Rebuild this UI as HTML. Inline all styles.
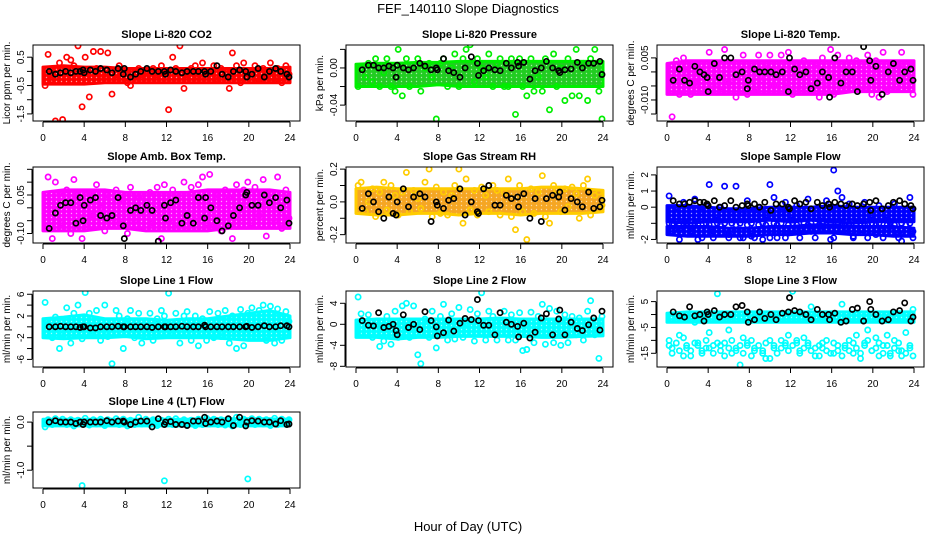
<!DOCTYPE html>
<html><head><meta charset="utf-8"><style>
html,body{margin:0;padding:0;background:#fff}
svg{display:block;font-family:"Liberation Sans",Arial,sans-serif}
</style></head><body>
<svg id="chart" width="936" height="540" viewBox="0 0 936 540">
<text x="468" y="13" text-anchor="middle" font-size="13">FEF_140110  Slope Diagnostics</text>
<text x="468" y="531" text-anchor="middle" font-size="13">Hour of Day (UTC)</text>
</svg>
<script>
const bandHours=[0,2,4,6,8,10,12,14,16,18,20,22,24];
const colorHours=[0.2,0.5,0.9,1.2,1.6,1.9,2.3,2.7,3.0,3.4,3.8,4.1,4.5,4.9,5.2,5.6,6.0,6.3,6.7,7.1,7.4,7.8,8.2,8.5,8.9,9.3,9.6,10.0,10.4,10.7,11.1,11.5,11.8,12.2,12.6,12.9,13.3,13.7,14.0,14.4,14.8,15.1,15.5,15.9,16.2,16.6,17.0,17.3,17.7,18.1,18.4,18.8,19.2,19.5,19.9,20.3,20.6,21.0,21.4,21.7,22.1,22.5,22.8,23.2,23.6,23.9];
const blackHours=[0.6,1.2,1.7,2.2,2.7,3.2,3.6,3.9,4.0,4.6,5.1,5.6,6.2,6.7,7.3,7.8,7.9,8.5,9.0,9.5,10.1,10.6,11.2,11.8,11.9,12.4,12.9,13.5,14.0,14.6,15.1,15.7,15.8,16.3,16.9,17.4,18.0,18.5,19.1,19.7,19.8,20.3,20.9,21.5,22.0,22.6,23.1,23.7,23.9];

const co2Lo=[-0.45,-0.45,-0.45,-0.4,-0.4,-0.4,-0.4,-0.4,-0.4,-0.4,-0.4,-0.4,-0.4];
const co2Hi=[0.15,0.2,0.15,0.15,0.1,0.1,0.1,0.1,0.1,0.1,0.1,0.1,0.15];
const co2Pts=[-0.5,0.6,-0.3,-1.75,0.3,-1.7,0.5,0.4,0.2,0.9,-1.25,0.5,-0.9,0.7,0.1,0.7,-0.2,0.65,-0.8,-0.3,0.2,-0.1,-0.4,-0.5,-0.2,0.1,-0.3,0.0,-0.2,0.1,-0.3,0.2,-0.1,-1.35,0.5,0.1,0.9,-0.6,-0.3,0.1,0.2,-0.2,0.3,-0.1,0.0,0.2,-0.3,0.1,-0.2,-0.6,0.65,0.2,-0.4,0.3,-0.1,0.0,0.2,-0.3,0.1,-0.2,0.3,-0.3,0.1,-0.4,0.2,-0.1];
const co2Blk=[0.0,-0.1,-0.05,0.0,-0.05,0.0,0.0,0.05,-0.05,0.05,0.0,0.1,0.05,-0.05,0.1,-0.1,0.1,-0.2,-0.1,0.0,0.1,0.0,0.0,0.0,-0.1,0.05,0.0,-0.05,0.0,0.0,0.0,0.0,-0.1,0.0,0.2,-0.1,-0.2,0.0,0.05,0.0,-0.2,-0.1,0.1,-0.2,0.0,0.1,0.0,-0.1,-0.2];

const presLo=[-0.02,-0.02,-0.02,-0.02,-0.018,-0.02,-0.02,-0.02,-0.02,-0.02,-0.02,-0.02,-0.02];
const presHi=[0.004,0.005,0.005,0.006,0.006,0.007,0.007,0.007,0.007,0.007,0.007,0.007,0.007];
const presPts=[-0.02,0.0,-0.01,0.005,-0.015,0.01,-0.02,-0.005,0.01,-0.02,-0.025,0.02,-0.03,0.01,-0.02,0.0,0.01,-0.025,0.0,0.005,-0.01,-0.055,0.005,0.01,-0.02,0.0,0.015,-0.02,0.01,0.02,0.025,-0.015,0.01,0.0,-0.01,0.015,-0.02,0.005,0.01,-0.02,-0.02,0.01,-0.05,0.01,-0.02,-0.03,0.01,-0.025,-0.01,-0.025,0.01,-0.045,0.015,-0.02,0.0,-0.035,0.01,-0.03,0.02,-0.03,0.005,-0.035,0.01,0.02,-0.025,-0.055];
const presBlk=[-0.002,0.003,0.003,0.0,0.0,0.002,0.0,-0.01,0.003,0.0,-0.002,0.0,0.005,0.002,-0.002,0.0,-0.002,0.01,-0.003,-0.005,-0.01,0.0,0.012,0.005,-0.008,-0.003,0.0,-0.002,-0.003,0.005,0.0,0.006,0.002,0.006,-0.012,-0.003,0.0,0.007,0.0,-0.003,-0.005,-0.002,-0.001,0.006,0.0,0.005,0.005,0.007,-0.007];

const tempLo=[-0.008,-0.008,-0.008,-0.008,-0.008,-0.008,-0.008,-0.008,-0.008,-0.007,-0.007,-0.007,-0.007];
const tempHi=[0.003,0.004,0.004,0.004,0.004,0.004,0.004,0.004,0.004,0.004,0.004,0.004,0.004];
const tempPts=[-0.004,-0.016,0.004,-0.008,0.005,0.0,-0.008,-0.004,0.0,0.002,-0.003,0.007,-0.005,0.003,-0.007,0.008,-0.004,0.002,-0.009,0.001,0.006,-0.008,0.003,-0.007,0.006,-0.003,0.003,0.006,-0.005,0.002,0.006,-0.004,0.007,-0.008,0.003,-0.006,0.004,0.001,-0.005,0.003,-0.009,0.005,-0.006,0.008,-0.008,0.006,0.002,-0.006,0.005,-0.003,0.004,0.001,-0.006,0.006,-0.008,0.004,-0.009,0.007,-0.007,0.003,-0.006,0.002,0.007,-0.005,0.003,-0.008];
const tempBlk=[-0.003,0.001,-0.003,-0.004,0.002,0.0,-0.001,-0.002,-0.007,0.003,-0.002,0.005,0.005,-0.001,0.0,-0.006,-0.003,0.001,0.0,0.0,0.0,-0.001,0.0,-0.007,0.005,0.001,-0.001,0.0,-0.006,-0.004,0.0,-0.002,-0.009,0.005,-0.004,0.0,0.0,-0.007,0.009,0.004,-0.003,0.002,-0.008,0.0,0.003,-0.003,0.0,0.001,-0.003];

const ambLo=[-0.09,-0.09,-0.09,-0.08,-0.08,-0.09,-0.09,-0.09,-0.09,-0.08,-0.08,-0.08,-0.08];
const ambHi=[0.06,0.07,0.07,0.07,0.06,0.06,0.06,0.06,0.07,0.07,0.07,0.07,0.06];
const ambPts=[-0.08,0.12,-0.12,0.1,0.06,-0.06,0.07,-0.1,0.11,0.05,-0.12,-0.08,0.06,-0.03,0.09,0.0,-0.09,0.05,-0.04,0.07,-0.06,0.03,-0.1,0.08,-0.05,0.04,-0.07,0.02,0.06,-0.06,0.08,-0.12,0.09,-0.05,0.07,-0.08,0.04,0.1,-0.07,0.08,-0.05,0.09,0.12,-0.06,0.13,-0.07,0.05,-0.09,0.07,0.04,-0.12,0.09,-0.04,0.07,0.1,-0.06,0.08,-0.03,0.11,-0.11,0.06,-0.05,0.12,-0.08,0.07,-0.04];
const ambBlk=[-0.08,-0.02,0.01,0.02,0.02,-0.06,0.04,-0.05,0.01,0.03,0.04,-0.03,-0.04,-0.03,0.04,-0.07,-0.12,-0.01,0.0,-0.01,0.01,-0.01,-0.13,0.01,-0.04,0.02,0.03,-0.06,-0.03,-0.06,0.04,-0.04,0.04,0.0,-0.05,-0.09,-0.07,-0.03,0.0,0.05,0.06,0.01,0.01,0.05,0.02,0.04,0.0,0.03,-0.06];

const rhLo=[-0.07,-0.08,-0.08,-0.07,-0.07,-0.08,-0.07,-0.07,-0.08,-0.07,-0.07,-0.07,-0.06];
const rhHi=[0.08,0.09,0.08,0.08,0.08,0.08,0.08,0.08,0.08,0.09,0.09,0.08,0.07];
const rhPts=[0.1,0.12,-0.06,0.0,0.08,-0.09,0.06,0.12,-0.05,0.1,0.04,-0.08,0.06,0.18,-0.06,0.07,0.02,-0.04,0.12,0.2,-0.09,0.09,-0.07,0.06,-0.08,0.04,0.1,0.2,-0.13,0.14,-0.05,0.07,-0.08,0.09,0.04,-0.06,0.1,0.07,-0.08,0.06,0.14,-0.09,-0.17,0.1,-0.06,-0.23,0.08,-0.07,0.06,0.16,-0.09,-0.13,0.1,0.07,-0.06,0.08,-0.03,0.09,0.05,-0.1,0.1,0.14,-0.08,0.04,0.06,-0.02];
const rhBlk=[-0.04,0.05,0.0,-0.06,-0.1,0.03,-0.07,-0.08,0.0,0.08,-0.03,0.03,0.05,0.03,-0.12,0.0,-0.02,-0.04,0.01,0.02,0.08,-0.08,0.0,-0.06,-0.07,0.08,0.1,-0.02,-0.02,0.04,0.02,0.03,-0.03,0.05,-0.1,0.02,-0.12,0.02,0.04,0.03,0.06,-0.05,0.02,0.0,-0.03,0.06,-0.04,-0.03,0.01];

const sampLo=[-0.9,-1.0,-0.9,-0.9,-0.9,-0.8,-0.9,-0.8,-0.9,-1.0,-0.9,-0.9,-0.9];
const sampHi=[0.1,0.1,0.0,-0.1,-0.1,0.0,0.0,0.0,0.1,0.0,0.0,0.0,0.0];
const sampLo2=[-1.7,-1.8,-1.8,-1.8,-1.8,-1.7,-1.7,-1.6,-1.6,-1.7,-1.7,-1.8,-1.8];
const sampHi2=[-1.2,-1.2,-1.2,-1.3,-1.3,-1.2,-1.2,-1.1,-1.1,-1.2,-1.2,-1.2,-1.3];
const sampPts=[0.7,-1.5,0.0,-2.0,0.3,-1.0,-1.6,0.5,-2.0,-0.3,0.1,1.4,-1.5,-0.8,0.0,1.3,-1.7,-0.6,1.3,-1.9,-0.4,0.4,-1.8,-0.2,0.0,-2.0,-0.5,1.4,0.6,-1.9,-0.3,0.3,-1.6,-0.8,0.1,-1.4,-1.0,0.5,-1.5,-0.1,-0.8,-1.2,0.4,-2.0,2.3,1.0,0.6,-1.3,0.2,-1.8,-0.7,-1.4,0.3,-1.1,-0.5,-1.7,0.1,-1.4,-0.8,-1.2,0.2,-1.6,-2.1,-0.4,0.6,-1.5];
const sampPts2=[-1.0,-1.1,-0.9,-1.4,-1.0,-1.1,-1.5,-1.0,-1.1,-1.9,-1.0,-1.1,-1.9,-1.0,-1.1,-1.0,-1.9,-1.0,-1.1,-1.0,-1.9,-1.1,-1.0,-1.9,-1.1,-1.0,-1.1,-1.9,-1.0,-1.1,-1.0,-1.9,-1.1,-1.0,-1.1,-1.9,-1.0,-1.1,-1.0,-1.9,-1.1,-1.0,-1.1,-1.0,-1.9,-1.1,-1.0,-1.1,-1.0,-1.9,-1.1,-1.0,-1.1,-1.9,-1.0,-1.1,-1.0,-1.9,-1.1,-1.0,-1.1,-1.9,-1.0,-1.1,-1.0,-1.9];
const sampBlk=[0.4,0.2,0.2,0.3,0.4,0.3,0.3,0.2,0.1,0.4,0.0,0.1,0.4,0.0,0.1,0.2,0.1,0.2,0.0,0.3,-0.2,0.2,0.2,0.0,-0.1,0.4,0.2,0.3,-0.1,0.3,0.1,0.2,0.0,0.3,0.2,0.1,0.2,0.1,0.2,0.3,-0.2,0.4,-0.1,0.1,0.3,0.4,0.2,0.1,-0.1];

const l1Lo=[-2,-2.2,-2,-2,-1.8,-2.2,-2,-2,-2,-2.2,-2.5,-2.5,-2];
const l1Hi=[1.5,1.8,2.2,1.5,1.5,1.5,1.2,1.5,1.5,2,2.5,3,2];
const l1Pts=[4.5,0.5,-2,1.8,-4,-1.5,3.5,-3,2.5,4,-2.2,6.3,2.5,-1.5,3,-2.5,4,-1.8,-6.8,3,2,-4,1.5,3,-2,2.5,-3,1,2.5,-2.5,1.5,3,2,6.2,-1.5,2.5,-3,2,2.8,-2.5,2,-3.5,1.5,-2.5,2.8,-2,2.5,-1.8,3,-3,2,-4,3.2,-3.5,2.5,3.5,-2,3,4,-2.5,3.8,-3,3.3,-2.5,2.8,1];
const l1Blk=[0,0,0.1,0,0,0,-0.1,0,0,-0.2,-0.2,0,0,0,0.1,0,0,0,0,0,0,-0.1,0,0,0,0,0,0.1,0,0,0,0.3,0,0,0,0,0,0,0,0,0.1,-0.1,0,0.2,0,0,0.2,0.2,0];

const l2Lo=[-2.5,-2.5,-2.8,-2.5,-2.5,-2.3,-2.3,-2.3,-2.3,-2.5,-2.5,-2.3,-2.2];
const l2Hi=[0.8,1,1,1,1,1,1,1.2,1,1,1,1,1];
const l2Pts=[5.2,2,-1.8,1.8,-2.5,0.5,-4.2,-3.2,1.5,-3.8,2.5,-2.5,3.5,4,-2.5,3.5,-5.8,-7.5,1,-2.5,2.5,-4.5,1.5,3.8,-3,2,-2.8,3.2,-2.5,-0.8,2.8,-3.2,2,6,-3,2.5,1.5,-3,0.5,2.5,-3,1.8,-3,2.2,-5,-4.8,2.3,-3.5,1.5,3.8,-3.8,3,-3.5,2.5,-4,1.8,-3.5,1.5,-2,1.2,-3,2.5,4.5,-2,-6.5,1.5];
const l2Blk=[0.7,-0.2,-0.3,2.2,-0.6,-0.4,0,-1.2,-2.0,1.8,-0.6,0,-1,2.4,0.7,-0.5,-2.2,-1.6,0.8,-1.3,0.2,1.1,0.9,4.7,0.7,-0.2,-0.2,-2,2.2,0.4,0,-0.4,-2.4,0.2,-2.6,-1.5,1.2,2,-2,1,2.7,-2,0.4,-0.8,-1.2,-0.1,1.2,-1.1,2.5];

const l3Lo=[-3,-3,-3,-3,-3,-3,-3,-3,-3,-3,-3,-3,-3];
const l3Hi=[0.5,1,1,1,1,1,1,1,1,1,1,1,1];
const l3Pts=[-10,-13,-1,-8,-16,-12,-14,-3,-11,-15,-13,-7,-12,8,-14,-11,-6,-15,-13,-19.5,-9,-12,-10,-14,-2,-15,-11,-17,-13,-1,-10,-12,-8,9,-11,-14,-9,-12,3,-13,-16,-11,-14,-2,-15,-12,4,-13,-10,-15,-8,-17,-11,-6,-14,-9,-16,-12,-8,-15,-10,-14,-16,-7,-13,2];
const l3Pts2=[-12,-15,-11,-14,-9,-13,-16,-11,-12,-14,-10,-13,-15,-11,-12,-16,-13,-10,-14,-12,-15,-11,-16,-13,-12,-14,-17,-10,-12,-15,-13,-11,-14,-12,-10,-15,-13,-11,-14,-16,-12,-13,-10,-15,-11,-14,-16,-12,-14,-11,-13,-15,-12,-10,-14,-13,-11,-15,-12,-16,-13,-11,-14,-15,-12,-16];
const l3Blk=[1,-0.5,-1,3,-0.5,0,-2.5,1,0,1.5,-1,0,0,3,3.5,1,-3,-2,1,-1.5,0,-2,0.5,1,6.5,1.5,1,0,-2,2,0,0,-2,0.5,-3,-2.5,2,2.5,-2.5,5,2,0,-2.5,-2,1,1.5,4.5,-2.5,-1];

const l4Lo=[-0.08,-0.08,-0.08,-0.08,-0.08,-0.08,-0.08,-0.08,-0.08,-0.08,-0.08,-0.08,-0.08];
const l4Hi=[0.06,0.06,0.06,0.06,0.06,0.06,0.06,0.06,0.07,0.07,0.07,0.07,0.06];
const l4Pts=[-0.1,0.05,-0.05,0.07,-0.03,0.06,-0.05,0.05,-0.08,0.04,-1.32,0.08,-0.06,0.05,-0.04,0.06,-0.07,0.05,-0.03,0.07,-0.05,0.06,-0.08,0.04,-0.05,0.1,-0.04,0.06,-0.05,0.05,-0.07,0.04,-1.22,0.06,-0.05,0.07,-0.04,0.05,-0.06,0.04,-0.07,0.06,-0.05,0.08,-0.04,0.06,-0.05,0.05,-0.06,0.04,-0.08,0.1,-0.05,0.06,-1.18,0.07,-0.05,0.06,-0.04,0.05,-0.07,0.08,-0.05,0.06,-0.04,0.05];
const l4Blk=[0,0.03,0,0,0,-0.03,0,-0.05,0,0,0,0,0.03,0,0.02,0.02,0,-0.05,0,0.02,0.02,-0.1,0.07,-0.05,0,0.01,-0.05,-0.05,-0.07,0.02,0.02,0.1,-0.03,0,0.02,0,0.07,-0.07,0.1,-0.08,0,0.03,0.02,0,0,-0.04,0.03,-0.05,-0.04];

const xTicks=[0,4,8,12,16,20,24];

const panels=[
 {id:'co2',title:'Slope Li-820 CO2',ylab:'Licor ppm per min.',L:33,T:45,ymin:-1.75,ymax:0.93,ticks:[0.5,0,-0.5,-1,-1.5],labels:[0.5,-0.5,-1.5],fmt:v=>v.toFixed(1),col:'#ff0000',band:'#ff0000',bands:[[co2Lo,co2Hi]],pts:[co2Pts],blk:co2Blk},
 {id:'pressure',title:'Slope Li-820 Pressure',ylab:'kPa per min.',L:346,T:45,ymin:-0.0571,ymax:0.0247,ticks:[0.02,0,-0.02,-0.04],labels:[0,-0.04],fmt:v=>v.toFixed(2),col:'#00ee00',band:'#22cc22',bands:[[presLo,presHi]],pts:[presPts],blk:presBlk},
 {id:'temp',title:'Slope Li-820 Temp.',ylab:'degrees C per min.',L:657,T:45,ymin:-0.0175,ymax:0.0096,ticks:[0.005,0,-0.005,-0.01,-0.015],labels:[0.005,-0.01],fmt:v=>v.toFixed(3),col:'#ff00ff',band:'#ff00ff',bands:[[tempLo,tempHi]],pts:[tempPts],blk:tempBlk},
 {id:'amb-box-temp',title:'Slope Amb. Box Temp.',ylab:'degrees C per min.',L:33,T:167,ymin:-0.137,ymax:0.159,ticks:[0.15,0.1,0.05,0,-0.05,-0.1],labels:[0.05,-0.1],fmt:v=>v.toFixed(2),col:'#ff00ff',band:'#ff00ff',bands:[[ambLo,ambHi]],pts:[ambPts],blk:ambBlk},
 {id:'gas-stream-rh',title:'Slope Gas Stream RH',ylab:'percent per min.',L:346,T:167,ymin:-0.251,ymax:0.213,ticks:[0.2,0.1,0,-0.1,-0.2],labels:[0.2,0,-0.2],fmt:v=>v.toFixed(1),col:'#ffcc00',band:'#f5a623',bands:[[rhLo,rhHi]],pts:[rhPts],blk:rhBlk},
 {id:'sample-flow',title:'Slope Sample Flow',ylab:'ml/min per min.',L:657,T:167,ymin:-2.22,ymax:2.49,ticks:[2,1,0,-1,-2],labels:[2,1,0,-2],fmt:v=>String(v),col:'#0000ff',band:'#0000ff',bands:[[sampLo,sampHi],[sampLo2,sampHi2]],pts:[sampPts,sampPts2],blk:sampBlk},
 {id:'line1-flow',title:'Slope Line 1 Flow',ylab:'ml/min per min.',L:33,T:291,ymin:-7.4,ymax:6.6,ticks:[6,4,2,0,-2,-4,-6],labels:[6,2,-2,-6],fmt:v=>String(v),col:'#00ffff',band:'#00ffff',bands:[[l1Lo,l1Hi]],pts:[l1Pts],blk:l1Blk},
 {id:'line2-flow',title:'Slope Line 2 Flow',ylab:'ml/min per min.',L:346,T:291,ymin:-8.13,ymax:6.34,ticks:[4,0,-4,-8],labels:[4,0,-4,-8],fmt:v=>String(v),col:'#00ffff',band:'#00ffff',bands:[[l2Lo,l2Hi]],pts:[l2Pts],blk:l2Blk},
 {id:'line3-flow',title:'Slope Line 3 Flow',ylab:'ml/min per min.',L:657,T:291,ymin:-20.3,ymax:9.1,ticks:[5,0,-5,-10,-15],labels:[5,-5,-15],fmt:v=>String(v),col:'#00ffff',band:'#00ffff',bands:[[l3Lo,l3Hi]],pts:[l3Pts,l3Pts2],blk:l3Blk},
 {id:'line4-flow',title:'Slope Line 4 (LT) Flow',ylab:'ml/min per min.',L:33,T:412,ymin:-1.37,ymax:0.21,ticks:[0,-0.5,-1],labels:[0,-1],fmt:v=>v.toFixed(1),col:'#00ffff',band:'#00ffff',bands:[[l4Lo,l4Hi]],pts:[l4Pts],blk:l4Blk}
];
const W=267,H=76;
const NS='http://www.w3.org/2000/svg';
const svg=document.getElementById('chart');
function mk(tag,attrs,parent){const e=document.createElementNS(NS,tag);for(const k in attrs)e.setAttribute(k,attrs[k]);parent.appendChild(e);return e;}
const defs=mk('defs',{},svg);
panels.forEach(p=>{
  const xs=h=>p.L+10+h*247/24;
  const ys=v=>p.T+(p.ymax-v)/(p.ymax-p.ymin)*H;
  const g=mk('g',{},svg);
  
  
  const cp=mk('clipPath',{id:'cp-'+p.id},defs);
  mk('rect',{x:p.L,y:p.T,width:W,height:H},cp);
  const pat=mk('pattern',{id:'pat-'+p.id,width:5,height:4,patternUnits:'userSpaceOnUse'},defs);
  mk('rect',{x:0,y:0,width:5,height:4,fill:p.band},pat);
  mk('circle',{cx:1.5,cy:1.5,r:0.7,fill:'#ffffff','fill-opacity':'0.6'},pat);
  const t=mk('text',{x:p.L+W/2,y:p.T-7,'text-anchor':'middle','font-size':'11','font-weight':'bold'},g);
  t.textContent=p.title;
  
  
  const yl=mk('text',{x:0,y:0,'text-anchor':'middle','font-size':'10',transform:`translate(${p.L-23},${p.T+H/2}) rotate(-90)`},g);
  yl.textContent=p.ylab;
  
  
  const plot=mk('g',{'clip-path':`url(#cp-${p.id})`},g);
  
  
  p.bands.forEach(([lo,hi])=>{
    let d='';
    bandHours.forEach((h,i)=>{d+=(i?'L':'M')+xs(h).toFixed(1)+','+ys(hi[i]).toFixed(1);});
    for(let i=bandHours.length-1;i>=0;i--)d+='L'+xs(bandHours[i]).toFixed(1)+','+ys(lo[i]).toFixed(1);
    const band=mk('path',{d:d+'Z',fill:`url(#pat-${p.id})`,stroke:p.col,'stroke-width':'3','stroke-linejoin':'round'},plot);
    
    
  });
  p.pts.forEach(arr=>{
    const n=Math.min(colorHours.length,arr.length);
    for(let i=0;i<n;i++){
      const c=mk('circle',{cx:xs(colorHours[i]).toFixed(1),cy:ys(arr[i]).toFixed(1),r:2.6,fill:'none',stroke:p.col,'stroke-width':1.7},plot);
      
      
    }
  });
  const m=Math.min(blackHours.length,p.blk.length);
  for(let i=0;i<m;i++){
    const c=mk('circle',{cx:xs(blackHours[i]).toFixed(1),cy:ys(p.blk[i]).toFixed(1),r:2.6,fill:'none',stroke:'#000','stroke-width':1.7},plot);
    
    
  }
  const fr=mk('rect',{x:p.L,y:p.T,width:W,height:H,fill:'none',stroke:'#000','stroke-width':1},g);
  
  
  const xa=mk('g',{},g);
  
  
  mk('line',{x1:xs(0),x2:xs(24),y1:p.T+H+1,y2:p.T+H+1,stroke:'#000'},xa);
  xTicks.forEach(h=>{
    mk('line',{x1:xs(h),x2:xs(h),y1:p.T+H+1,y2:p.T+H+6,stroke:'#000'},xa);
    const tl=mk('text',{x:xs(h),y:p.T+H+20,'text-anchor':'middle','font-size':'10'},xa);
    tl.textContent=h;
    
    
  });
  const ya=mk('g',{},g);
  
  
  mk('line',{x1:p.L-1,x2:p.L-1,y1:ys(p.ticks[0]),y2:ys(p.ticks[p.ticks.length-1]),stroke:'#000'},ya);
  p.ticks.forEach(v=>{mk('line',{x1:p.L-1,x2:p.L-6,y1:ys(v),y2:ys(v),stroke:'#000'},ya);});
  p.labels.forEach(v=>{
    const tl=mk('text',{x:0,y:0,'text-anchor':'middle','font-size':'10',transform:`translate(${p.L-9},${ys(v).toFixed(1)}) rotate(-90)`},ya);
    tl.textContent=p.fmt(v);
    
    
  });
});
</script>
</body></html>
